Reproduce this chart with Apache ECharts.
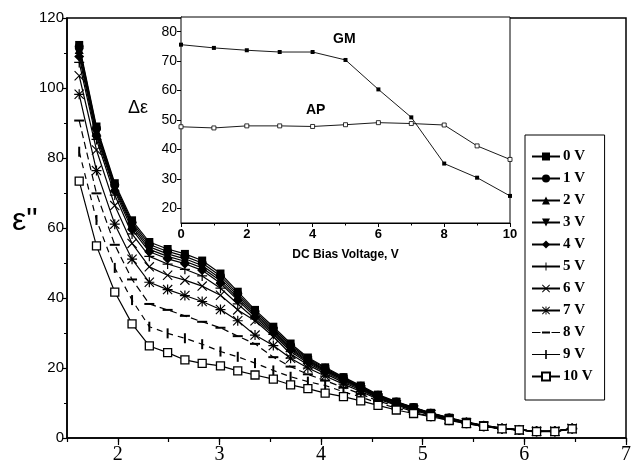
<!DOCTYPE html>
<html>
<head>
<meta charset="UTF-8">
<title>Loss factor vs log frequency</title>
<script src="https://cdn.jsdelivr.net/npm/echarts@6/dist/echarts.min.js"></script>
<style>
  html, body { margin: 0; padding: 0; background: #fff; }
  #chart { width: 634px; height: 468px; }
</style>
</head>
<body>
<div id="chart"></div>
<script>
// x positions of the measured points (main plot)
const xVals = [1.62, 1.79, 1.97, 2.14, 2.31, 2.49, 2.66, 2.83, 3.01, 3.18, 3.35, 3.53, 3.70, 3.87, 4.04,
  4.22, 4.39, 4.56, 4.74, 4.91, 5.08, 5.26, 5.43, 5.60, 5.78, 5.95, 6.12, 6.30, 6.47];

const v0 = [112.3, 89.0, 72.8, 62.2, 56.0, 54.0, 52.6, 50.7, 47.0, 41.8, 36.6, 31.8, 27.0, 23.0, 20.2, 17.4, 15.0, 12.4, 10.4, 8.8, 7.2, 5.8, 4.6, 3.6, 2.8, 2.3, 1.9, 1.9, 2.7];
const v1 = [111.8, 88.5, 72.3, 61.6, 55.3, 53.3, 51.9, 50.0, 46.3, 41.2, 36.1, 31.3, 26.5, 22.7, 19.9, 17.2, 14.8, 12.2, 10.3, 8.7, 7.1, 5.7, 4.5, 3.6, 2.8, 2.3, 1.9, 1.9, 2.7];
const v2 = [111.0, 87.8, 71.8, 61.0, 54.6, 52.6, 51.2, 49.3, 45.6, 40.6, 35.6, 30.8, 26.0, 22.4, 19.6, 17.0, 14.6, 12.1, 10.2, 8.6, 7.1, 5.7, 4.5, 3.5, 2.8, 2.3, 1.9, 1.9, 2.7];
const v3 = [110.0, 87.0, 71.2, 60.4, 53.9, 51.9, 50.5, 48.6, 44.9, 40.0, 35.1, 30.4, 25.6, 22.1, 19.4, 16.8, 14.4, 12.0, 10.1, 8.5, 7.0, 5.6, 4.5, 3.5, 2.7, 2.3, 1.9, 1.9, 2.7];
const v4 = [109.0, 86.3, 70.6, 59.6, 53.2, 51.2, 49.8, 47.9, 44.2, 39.4, 34.6, 30.0, 25.2, 21.8, 19.1, 16.6, 14.2, 11.8, 10.0, 8.4, 6.9, 5.6, 4.4, 3.5, 2.7, 2.3, 1.9, 1.9, 2.7];
const v5 = [107.3, 85.3, 69.4, 58.3, 51.9, 49.7, 48.2, 46.3, 42.8, 38.3, 34.0, 29.6, 24.7, 21.4, 18.8, 16.3, 14.0, 11.6, 9.8, 8.3, 6.8, 5.5, 4.4, 3.5, 2.7, 2.3, 1.9, 1.9, 2.7];
const v6 = [103.5, 82.3, 66.4, 55.6, 48.9, 46.5, 45.1, 43.4, 40.8, 36.6, 33.5, 29.0, 24.0, 20.9, 18.4, 15.9, 13.7, 11.4, 9.6, 8.1, 6.7, 5.4, 4.3, 3.4, 2.7, 2.3, 1.9, 1.9, 2.7];
const v7 = [98.2, 76.4, 61.1, 51.1, 44.5, 42.4, 40.7, 39.0, 36.7, 33.5, 29.4, 26.4, 22.8, 20.0, 17.7, 15.4, 13.3, 11.1, 9.4, 7.9, 6.6, 5.3, 4.3, 3.4, 2.7, 2.3, 1.9, 1.9, 2.7];
const v8 = [90.7, 69.9, 55.2, 45.3, 38.3, 36.6, 34.9, 33.2, 31.5, 29.1, 26.9, 23.1, 20.4, 18.2, 16.4, 14.4, 12.6, 10.6, 9.0, 7.6, 6.4, 5.2, 4.2, 3.4, 2.6, 2.3, 1.9, 1.9, 2.7];
const v9 = [81.8, 62.3, 48.6, 39.4, 31.8, 29.9, 28.5, 26.8, 24.7, 23.2, 21.4, 19.3, 17.5, 16.1, 15.0, 13.2, 11.7, 10.0, 8.6, 7.3, 6.2, 5.1, 4.2, 3.3, 2.6, 2.3, 1.9, 1.9, 2.7];
const v10 = [73.4, 54.9, 41.7, 32.6, 26.3, 24.4, 22.3, 21.3, 20.6, 19.2, 18.0, 16.8, 15.2, 14.1, 12.8, 11.8, 10.6, 9.3, 8.0, 7.0, 6.1, 5.0, 4.1, 3.3, 2.6, 2.3, 1.8, 1.8, 2.6];

const seriesNames = ['0 V', '1 V', '2 V', '3 V', '4 V', '5 V', '6 V', '7 V', '8 V', '9 V', '10 V'];
const seriesVals = [v0, v1, v2, v3, v4, v5, v6, v7, v8, v9, v10];

// inset: delta epsilon vs DC bias
const biasV = [0, 1, 2, 3, 4, 5, 6, 7, 8, 9, 10];
const gmVals = [75.6, 74.5, 73.7, 73.1, 73.1, 70.4, 60.4, 50.9, 35.2, 30.4, 24.2];
const apVals = [47.7, 47.3, 48.0, 48.0, 47.8, 48.4, 49.1, 48.8, 48.3, 41.2, 36.6];

const mainXLabels = [2, 3, 4, 5, 6, 7];
const insetYLabels = [20, 30, 40, 50, 60, 70, 80];

const PLUS = 'path://M4.4,0H5.6V10H4.4Z M0,4.4H10V5.6H0Z';
const CROSS = 'path://M0.8,0L10,9.2L9.2,10L0,0.8Z M9.2,0L10,0.8L0.8,10L0,9.2Z';
const STAR = 'path://M4.4,0H5.6V10H4.4Z M0,4.4H10V5.6H0Z M0.8,0L10,9.2L9.2,10L0,0.8Z M9.2,0L10,0.8L0.8,10L0,9.2Z';
// legend icons for the dash / bar marker series (line + marker in one path)
const ICON8 = 'path://M0,0H0.01V0.01H0Z M27.99,9.99H28V10H27.99Z M0,4.5H8.5V5.5H0Z M10,4H18V6H10Z M19.5,4.5H28V5.5H19.5Z';
const ICON9 = 'path://M0,4.5H28V5.5H0Z M13.2,0.5H14.8V9.5H13.2Z M0,0H0.01V0.01H0Z M27.99,9.99H28V10H27.99Z';

const marks = [
  { symbol: 'rect', size: 8 },
  { symbol: 'circle', size: 9 },
  { symbol: 'triangle', size: 9 },
  { symbol: 'triangle', size: 9, rotate: 180 },
  { symbol: 'diamond', size: 10 },
  { symbol: PLUS, size: 10 },
  { symbol: CROSS, size: 10 },
  { symbol: STAR, size: 10 },
  { symbol: 'rect', size: [10, 2], dash: [7, 4] },
  { symbol: 'rect', size: [2, 10], dash: [6, 5] },
  { symbol: 'rect', size: 8, hollow: true }
];

const chart = echarts.init(document.getElementById('chart'));

const mainSeries = seriesNames.map(function (name, k) {
  const m = marks[k];
  return {
    name: name,
    type: 'line',
    xAxisIndex: 0,
    yAxisIndex: 0,
    data: xVals.map(function (x, i) { return [x, seriesVals[k][i]]; }),
    symbol: m.symbol,
    symbolSize: m.size,
    symbolRotate: m.rotate || 0,
    showAllSymbol: true,
    lineStyle: { color: '#000', width: 1.2, type: m.dash || 'solid' },
    itemStyle: m.hollow
      ? { color: '#fff', borderColor: '#000', borderWidth: 1.3 }
      : { color: '#000' },
    emphasis: { disabled: true },
    z: 2 + k
  };
});

const legendData = seriesNames.map(function (name, k) {
  if (k === 8) return { name: name, icon: ICON8 };
  if (k === 9) return { name: name, icon: ICON9 };
  return { name: name };
});

const font = 'Liberation Sans';

chart.setOption({
  animation: false,
  backgroundColor: '#fff',
  grid: [
    { left: 67, top: 18, right: 7, bottom: 30, show: true, borderColor: '#000', borderWidth: 1.5 },
    { left: 181, top: 17, width: 329, height: 206, show: true, borderColor: '#000', borderWidth: 1, backgroundColor: '#fff', z: 10 }
  ],
  legend: {
    data: legendData,
    orient: 'vertical',
    left: 525,
    top: 135,
    itemWidth: 28,
    itemHeight: 10,
    itemGap: 7,
    padding: [14, 12, 16, 6],
    borderColor: '#000',
    borderWidth: 1,
    backgroundColor: '#fff',
    textStyle: { fontFamily: 'Liberation Serif', fontWeight: 'bold', fontSize: 15, color: '#000', padding: [0, 0, 0, -2] },
    selectedMode: false
  },
  xAxis: [
    {
      gridIndex: 0, type: 'value', min: 1.5, max: 7, interval: 0.5,
      axisLine: { lineStyle: { color: '#000', width: 1.5 } },
      axisTick: { length: 4, lineStyle: { color: '#000', width: 1.2 } },
      axisLabel: {
        fontFamily: 'Liberation Serif', fontSize: 20, color: '#000', margin: 7,
        formatter: function (v) { return Number.isInteger(v) ? String(v) : ''; }
      },
      splitLine: { show: false }
    },
    {
      gridIndex: 0, type: 'value', min: 1.5, max: 7, position: 'bottom',
      axisLine: { show: false },
      axisTick: { length: 7, customValues: mainXLabels, lineStyle: { color: '#000', width: 1.2 } },
      axisLabel: { show: false },
      splitLine: { show: false }
    },
    {
      gridIndex: 1, type: 'value', min: 0, max: 10, interval: 2,
      name: 'DC Bias Voltage, V', nameLocation: 'middle', nameGap: 26,
      nameTextStyle: { fontFamily: font, fontWeight: 'bold', fontSize: 12, color: '#000' },
      axisLine: { lineStyle: { color: '#000', width: 1 } },
      axisTick: { length: 4, lineStyle: { color: '#000' } },
      minorTick: { show: true, splitNumber: 2, length: 2.5, lineStyle: { color: '#000' } },
      axisLabel: { fontFamily: font, fontWeight: 'bold', fontSize: 13, color: '#000', margin: 5 },
      splitLine: { show: false }
    }
  ],
  yAxis: [
    {
      gridIndex: 0, type: 'value', min: 0, max: 120, interval: 20,
      axisLine: { lineStyle: { color: '#000', width: 1.5 } },
      axisTick: { length: 5, lineStyle: { color: '#000', width: 1.2 } },
      minorTick: { show: true, splitNumber: 2, length: 3, lineStyle: { color: '#000' } },
      axisLabel: { fontFamily: font, fontSize: 15, color: '#000', margin: 3 },
      splitLine: { show: false }
    },
    {
      gridIndex: 1, type: 'value', min: 15, max: 85,
      axisLine: { lineStyle: { color: '#000', width: 1 } },
      axisTick: { length: 4, customValues: insetYLabels, lineStyle: { color: '#000' } },
      axisLabel: { fontFamily: font, fontSize: 14, color: '#000', margin: 4, customValues: insetYLabels },
      splitLine: { show: false }
    }
  ],
  graphic: [
    { type: 'text', left: 12, top: 205, style: { text: 'ε"', font: '32px "Liberation Sans"', fill: '#000' } },
    { type: 'text', left: 128, top: 99, style: { text: 'Δε', font: '18px "Liberation Sans"', fill: '#000' }, z: 20 },
    { type: 'text', left: 333, top: 32, style: { text: 'GM', font: 'bold 14px "Liberation Sans"', fill: '#000' }, z: 20 },
    { type: 'text', left: 306, top: 103, style: { text: 'AP', font: 'bold 14px "Liberation Sans"', fill: '#000' }, z: 20 }
  ],
  series: mainSeries.concat([
    {
      name: 'GM', type: 'line', xAxisIndex: 2, yAxisIndex: 1,
      data: biasV.map(function (x, i) { return [x, gmVals[i]]; }),
      symbol: 'rect', symbolSize: 4,
      lineStyle: { color: '#000', width: 0.9 }, itemStyle: { color: '#000' }, z: 12
    },
    {
      name: 'AP', type: 'line', xAxisIndex: 2, yAxisIndex: 1,
      data: biasV.map(function (x, i) { return [x, apVals[i]]; }),
      symbol: 'rect', symbolSize: 4,
      lineStyle: { color: '#000', width: 0.9 }, itemStyle: { color: '#fff', borderColor: '#000', borderWidth: 0.8 }, z: 12
    }
  ])
});
</script>
</body>
</html>
